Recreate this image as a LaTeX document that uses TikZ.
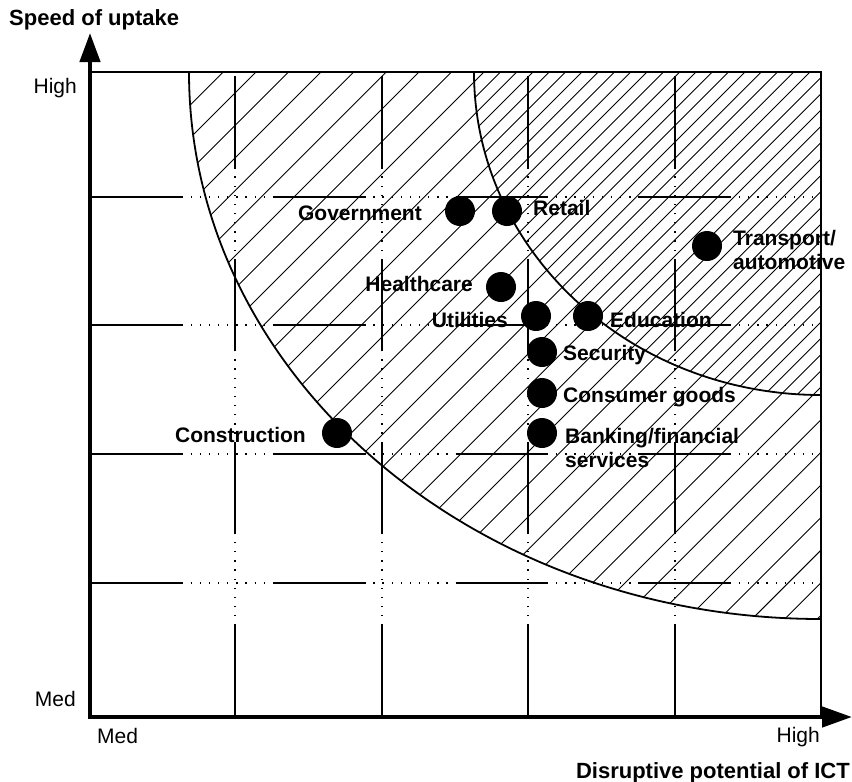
\documentclass[tikz,border=0pt]{standalone}
\usepackage{fontspec}
\setmainfont{Liberation Sans}
\usetikzlibrary{arrows.meta}
\begin{document}
\begin{tikzpicture}[x=1pt,y=-1pt,
  gridsolid/.style={line width=1.3pt, dash pattern=on 91.4pt off 91.4pt},
  griddots/.style={line width=1.3pt, dash pattern=on 1.3pt off 7.84pt},
  border/.style={line width=1.5pt},
  arcline/.style={line width=1.8pt},
  hatchline/.style={line width=0.9pt},
  axis/.style={line width=4.5pt, {Triangle[length=29pt,width=20pt]}-{Triangle[length=30pt,width=20pt]}},
  dot/.style={circle, fill=black, minimum size=30pt, inner sep=0pt},
  lbl/.style={font=\fontsize{21}{24}\selectfont\bfseries, inner sep=0pt},
  tick/.style={font=\fontsize{21}{24}\selectfont, inner sep=0pt},
  title/.style={font=\fontsize{22}{26}\selectfont\bfseries, inner sep=0pt}
]
\useasboundingbox (0,0) rectangle (852,782);

% hatching
\begin{scope}
  \clip (90,72) rectangle (821,717);
  \clip (821,72) ellipse [x radius=632pt, y radius=547pt];
  \foreach \k in {-6,...,40} {
    \pgfmathsetmacro\cc{295.3+32.6*\k}
    \draw[hatchline] (\cc-60,60) -- (\cc-780,780);
  }
\end{scope}
\begin{scope}
  \clip (90,72) rectangle (821,717);
  \clip (821,72) ellipse [x radius=347pt, y radius=323pt];
  \foreach \k in {-6,...,40} {
    \pgfmathsetmacro\cc{311.6+32.6*\k}
    \draw[hatchline] (\cc-60,60) -- (\cc-780,780);
  }
\end{scope}

% arcs
\begin{scope}
  \clip (90,72) rectangle (821,717);
  \draw[arcline] (821,72) ellipse [x radius=632pt, y radius=547pt];
  \draw[arcline] (821,72) ellipse [x radius=347pt, y radius=323pt];
\end{scope}

% grid
\foreach \y in {197,325,454,583} {
  \draw[griddots] (90,\y) -- (821,\y);
  \draw[gridsolid] (90,\y) -- (821,\y);
}
\foreach \x in {235,382,528,675} {
  \draw[griddots] (\x,717) -- (\x,72);
  \draw[gridsolid] (\x,717) -- (\x,72);
}
\draw[border] (90,72) -- (821,72) -- (821,717);

% axes
\draw[axis] (90,33) -- (90,717) -- (852,717);

% axis labels
\node[title, anchor=base west] (ytitle) at (9,25) {Speed of uptake};
\node[title, anchor=base east] (xtitle) at (850,778) {Disruptive potential of ICT};
\node[tick, anchor=base east] (yhigh) at (77,93) {High};
\node[tick, anchor=base east] (ymed) at (76,706) {Med};
\node[tick, anchor=base west] (xmed) at (97,743) {Med};
\node[tick, anchor=base east] (xhigh) at (820,742) {High};

% dots
\node[dot] (gov) at (460,211) {};
\node[dot] (ret) at (507,211) {};
\node[dot] (hea) at (501,287) {};
\node[dot] (uti) at (536,316) {};
\node[dot] (edu) at (588,316) {};
\node[dot] (sec) at (542,352) {};
\node[dot] (con) at (542,393) {};
\node[dot] (ban) at (542,433) {};
\node[dot] (tra) at (707,246) {};
\node[dot] (cst) at (337,433) {};

% dot labels
\node[lbl, anchor=base east] (govl) at (422,220) {Government};
\node[lbl, anchor=base west] (retl) at (533,215) {Retail};
\node[lbl, anchor=base east] (heal) at (473,291) {Healthcare};
\node[lbl, anchor=base east] (util) at (508,327) {Utilities};
\node[lbl, anchor=base west] (edul) at (610,327) {Education};
\node[lbl, anchor=base west] (secl) at (563,360) {Security};
\node[lbl, anchor=base west] (conl) at (563,402) {Consumer goods};
\node[lbl, anchor=base west] (banl) at (565,443) {\begin{tabular}[t]{@{}l@{}}Banking/financial\\services\end{tabular}};
\node[lbl, anchor=base west] (tral) at (733,245) {\begin{tabular}[t]{@{}l@{}}Transport/\\automotive\end{tabular}};
\node[lbl, anchor=base east] (cstl) at (306,442) {Construction};
\end{tikzpicture}
\end{document}
